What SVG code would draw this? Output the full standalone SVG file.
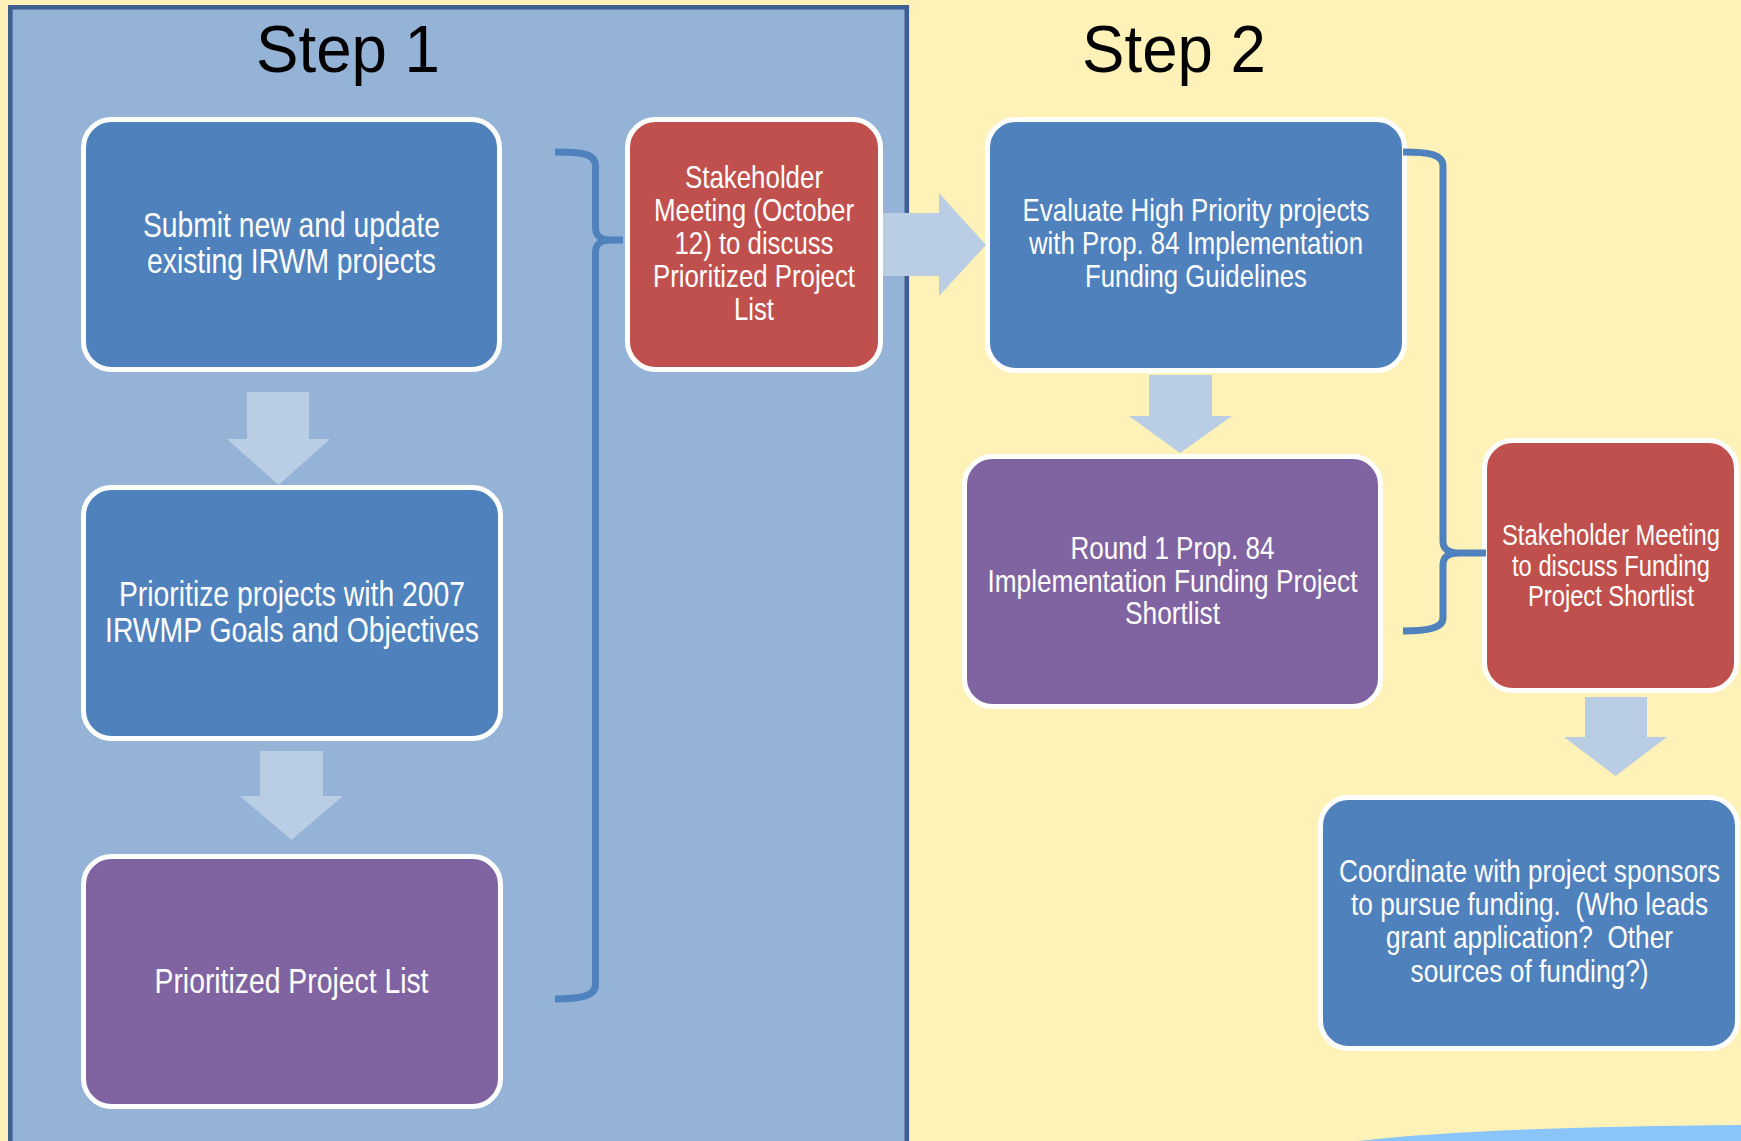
<svg xmlns="http://www.w3.org/2000/svg" width="1741" height="1141" viewBox="0 0 1741 1141">
  <style>
    .bg { fill: #fff2b8; }
    .panel { fill: #95b3d7; stroke: #3e5f8f; stroke-width: 4.6; }
    .box { stroke: #ffffff; stroke-width: 5; }
    .blue { fill: #4f81bd; }
    .red { fill: #c0504d; }
    .purple { fill: #8064a2; }
    .arrow { fill: #b9cde5; }
    .brace { fill: none; stroke: #4f81bd; stroke-width: 7; stroke-linejoin: round; }
    .step { font-family: "Liberation Sans", "Open Sans", sans-serif; font-size: 66px; fill: #000000; text-anchor: middle; }
    .lbl { font-family: "Liberation Sans", Arimo, sans-serif; fill: #ffffff; text-anchor: middle; }
    .big { font-size: 34.5px; }
    .mid { font-size: 31.5px; }
    .m32 { font-size: 32px; }
    .sm { font-size: 29px; }
  </style>
  <rect class="bg" x="0" y="0" width="1741" height="1141"/>
  <path d="M1358,1141 Q1480,1127 1741,1125 L1741,1141 Z" fill="#89c4fb"/>
  <rect class="panel" x="10.3" y="7.3" width="896.5" height="1160"/>
  <text class="step" x="348" y="72" textLength="184" lengthAdjust="spacingAndGlyphs">Step 1</text>
  <text class="step" x="1174" y="72" textLength="184" lengthAdjust="spacingAndGlyphs">Step 2</text>

  <g id="node-submit">
    <rect class="box blue" x="83.5" y="119.5" width="416" height="250" rx="28"/>
    <text class="lbl big" x="291.5" y="237" textLength="297" lengthAdjust="spacingAndGlyphs">Submit new and update</text>
    <text class="lbl big" x="291.5" y="273" textLength="289" lengthAdjust="spacingAndGlyphs">existing IRWM projects</text>
  </g>
  <g id="node-prioritize">
    <rect class="box blue" x="83.5" y="487.5" width="417" height="251" rx="28"/>
    <text class="lbl big" x="292" y="606" textLength="346" lengthAdjust="spacingAndGlyphs">Prioritize projects with 2007</text>
    <text class="lbl big" x="292" y="642" textLength="374" lengthAdjust="spacingAndGlyphs">IRWMP Goals and Objectives</text>
  </g>
  <g id="node-list">
    <rect class="box purple" x="83.5" y="856.5" width="417" height="250" rx="28"/>
    <text class="lbl big" x="291.5" y="993" textLength="274" lengthAdjust="spacingAndGlyphs">Prioritized Project List</text>
  </g>
  <g id="node-meeting1">
    <rect class="box red" x="627.5" y="119.5" width="253" height="250" rx="28"/>
    <text class="lbl mid" x="754" y="188" textLength="138" lengthAdjust="spacingAndGlyphs">Stakeholder</text>
    <text class="lbl mid" x="754" y="221" textLength="200" lengthAdjust="spacingAndGlyphs">Meeting (October</text>
    <text class="lbl mid" x="754" y="254" textLength="159" lengthAdjust="spacingAndGlyphs">12) to discuss</text>
    <text class="lbl mid" x="754" y="287" textLength="202" lengthAdjust="spacingAndGlyphs">Prioritized Project</text>
    <text class="lbl mid" x="754" y="320" textLength="40" lengthAdjust="spacingAndGlyphs">List</text>
  </g>
  <g id="node-evaluate">
    <rect class="box blue" x="987.5" y="119.5" width="417" height="251" rx="28"/>
    <text class="lbl mid" x="1196" y="221" textLength="347" lengthAdjust="spacingAndGlyphs">Evaluate High Priority projects</text>
    <text class="lbl mid" x="1196" y="254" textLength="334" lengthAdjust="spacingAndGlyphs">with Prop. 84 Implementation</text>
    <text class="lbl mid" x="1196" y="287" textLength="222" lengthAdjust="spacingAndGlyphs">Funding Guidelines</text>
  </g>
  <g id="node-shortlist">
    <rect class="box purple" x="964.5" y="456.5" width="416" height="250" rx="28"/>
    <text class="lbl m32" x="1172.5" y="559" textLength="204" lengthAdjust="spacingAndGlyphs">Round 1 Prop. 84</text>
    <text class="lbl m32" x="1172.5" y="591.5" textLength="370" lengthAdjust="spacingAndGlyphs">Implementation Funding Project</text>
    <text class="lbl m32" x="1172.5" y="624" textLength="95" lengthAdjust="spacingAndGlyphs">Shortlist</text>
  </g>
  <g id="node-meeting2">
    <rect class="box red" x="1484.5" y="440.5" width="252" height="250" rx="28"/>
    <text class="lbl sm" x="1611" y="545" textLength="218" lengthAdjust="spacingAndGlyphs">Stakeholder Meeting</text>
    <text class="lbl sm" x="1611" y="575.5" textLength="198" lengthAdjust="spacingAndGlyphs">to discuss Funding</text>
    <text class="lbl sm" x="1611" y="606" textLength="166" lengthAdjust="spacingAndGlyphs">Project Shortlist</text>
  </g>
  <g id="node-coordinate">
    <rect class="box blue" x="1320.5" y="797.5" width="417" height="251" rx="28"/>
    <text class="lbl m32" x="1529.5" y="882" textLength="381" lengthAdjust="spacingAndGlyphs">Coordinate with project sponsors</text>
    <text class="lbl m32" x="1529.5" y="915" textLength="357" lengthAdjust="spacingAndGlyphs">to pursue funding.&#160; (Who leads</text>
    <text class="lbl m32" x="1529.5" y="948" textLength="287" lengthAdjust="spacingAndGlyphs">grant application?&#160; Other</text>
    <text class="lbl m32" x="1529.5" y="982" textLength="238" lengthAdjust="spacingAndGlyphs">sources of funding?)</text>
  </g>

  <g id="connectors">
    <polygon class="arrow" points="247,392 309,392 309,439 330,439 278.5,485 227,439 247,439"/>
    <polygon class="arrow" points="260,751 323,751 323,796 343,796 291.5,840 240,796 260,796"/>
    <polygon class="arrow" points="883,213 939,213 939,193 986,245 939,296 939,276 883,276"/>
    <polygon class="arrow" points="1149,375 1212,375 1212,416 1232,416 1180,453 1129,416 1149,416"/>
    <polygon class="arrow" points="1585,697 1647,697 1647,737 1667,737 1615.5,776 1564,737 1585,737"/>
    <path class="brace" d="M555,152 C580,152 595.5,153 595.5,166 L595.5,227 C595.5,236 600,240 612,240 L623,240 M612,240 C600,240 595.5,244 595.5,253 L595.5,985 C595.5,996 580,999 555,999"/>
    <path class="brace" d="M1403,152 C1428,152 1443,154 1443,166 L1443,541 C1443,549 1448,553 1460,553 L1486,553 M1460,553 C1448,553 1443,557 1443,565 L1443,618 C1443,628 1428,631 1403,631"/>
  </g>
</svg>
